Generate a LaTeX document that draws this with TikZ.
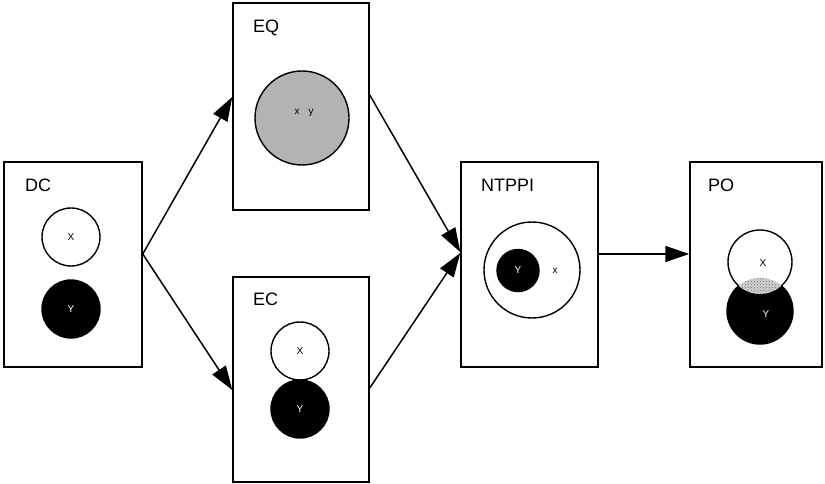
\documentclass[tikz,border=0pt]{standalone}
\usepackage{fontspec}
\setmainfont{Liberation Sans}
\usetikzlibrary{arrows.meta,patterns}
\definecolor{eqgrey}{RGB}{179,179,179}
\tikzset{
  frame/.style={draw, line width=1.5pt, fill=white, inner sep=0pt},
  title/.style={anchor=base west, inner sep=0pt, font=\fontsize{18}{20}\selectfont},
  region/.style={circle, draw, line width=1.4pt, inner sep=0pt, font=\fontsize{10}{11}\selectfont},
  whiteregion/.style={region, fill=white},
  blackregion/.style={region, fill=black, text=white},
  tag/.style={inner sep=0pt, font=\fontsize{10}{11}\selectfont},
  link/.style={line width=1.5pt, -{Triangle[length=24pt,width=16pt]}, shorten >=0pt}
}
\begin{document}
\begin{tikzpicture}[x=1pt,y=-1pt]
\useasboundingbox (0,0) rectangle (825,484);

% relation frames
\node[frame, minimum width=138pt, minimum height=205pt] (dc) at (73,264.5) {};
\node[frame, minimum width=136pt, minimum height=207pt] (eq) at (301,106.5) {};
\node[frame, minimum width=136pt, minimum height=205pt] (ec) at (301,379.5) {};
\node[frame, minimum width=137pt, minimum height=205pt] (ntppi) at (529.5,264.5) {};
\node[frame, minimum width=132pt, minimum height=205pt] (po) at (756,264.5) {};

% frame titles
\node[title] (tdc) at (25,192) {DC};
\node[title] (teq) at (253,33) {EQ};
\node[title] (tec) at (253,305) {EC};
\node[title] (tntppi) at (481,192) {NTPPI};
\node[title] (tpo) at (708,191) {PO};

% DC: disjoint
\node[whiteregion, minimum size=58pt] (dcx) at (71,237) {X};
\node[blackregion, minimum size=58pt] (dcy) at (71,309) {Y};

% EQ: equal
\node[region, fill=eqgrey, minimum size=94pt] (eqxy) at (302,118) {};
\node[tag] (eqlab) at (304,113) {x\hspace{9pt}y};

% EC: externally connected
\node[whiteregion, minimum size=58pt] (ecx) at (300,351) {X};
\node[blackregion, minimum size=58pt] (ecy) at (300,409) {Y};

% NTPPI: Y strictly inside X
\node[whiteregion, minimum size=96pt] (ntx) at (532,270) {};
\node[blackregion, minimum size=42pt] (nty) at (518,270.5) {Y};
\node[tag] (ntxlab) at (555,271) {x};

% PO: partial overlap
\node[region, fill=black, minimum size=66pt] (poy) at (760,311) {};
\node[whiteregion, minimum size=64pt] (pox) at (760,262) {};
\begin{scope}
  \clip (760,262) circle (32pt);
  \fill[gray!35] (760,311) circle (33pt);
  \fill[pattern=crosshatch dots, pattern color=black!60] (760,311) circle (33pt);
\end{scope}
\node[tag] (poxlab) at (763,263) {X};
\node[tag, text=white] (poylab) at (766,314) {Y};

% transitions
\draw[link] ([yshift=10.5pt]dc.east) -- ([yshift=9.5pt]eq.west);
\draw[link] ([yshift=10.5pt]dc.east) -- ([yshift=-10.5pt]ec.west);
\draw[link] ([yshift=11.5pt]eq.east) -- ([yshift=12.5pt]ntppi.west);
\draw[link] ([yshift=-8.5pt]ec.east) -- ([yshift=11.5pt]ntppi.west);
\draw[link] ([yshift=10.5pt]ntppi.east) -- ([yshift=10.5pt]po.west);
\end{tikzpicture}
\end{document}
